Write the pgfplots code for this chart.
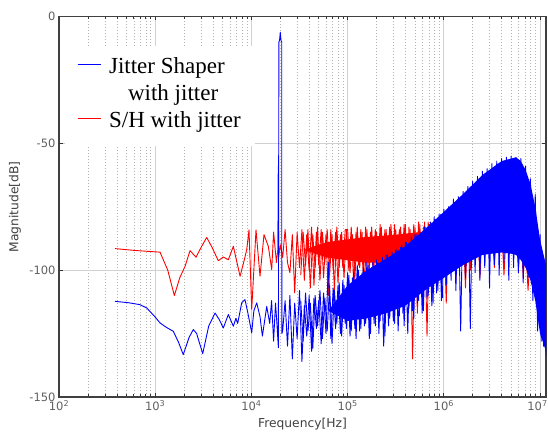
\documentclass[border=0pt]{standalone}
\usepackage{fontspec}
\setmainfont{DejaVu Sans}
\newfontfamily\legfont{Liberation Serif}
\usepackage{pgfplots}
\pgfplotsset{compat=1.18}
\begin{document}
\begin{tikzpicture}
\begin{axis}[
  scale only axis, width=487pt, height=380.5pt,
  xmode=log, xmin=100, xmax=1.153e7, ymin=-150, ymax=0,
  xtick={1e2,1e3,1e4,1e5,1e6,1e7},
  xticklabels={10\textsuperscript{2},10\textsuperscript{3},10\textsuperscript{4},10\textsuperscript{5},10\textsuperscript{6},\hspace*{-5pt}10\textsuperscript{7}},
  minor xtick={200,300,400,500,600,700,800,900,2000,3000,4000,5000,6000,7000,8000,9000,2e4,3e4,4e4,5e4,6e4,7e4,8e4,9e4,2e5,3e5,4e5,5e5,6e5,7e5,8e5,9e5,2e6,3e6,4e6,5e6,6e6,7e6,8e6,9e6},
  ytick={-150,-100,-50,0},
  yticklabels={-150,-100,-50,0},
  xmajorgrids, xminorgrids, ymajorgrids,
  major grid style={color=black!18, line width=0.7pt},
  minor grid style={color=black!30, line width=0.7pt, dash pattern=on 0.8pt off 2.2pt},
  axis line style={color=black!75, line width=1.1pt},
  tick style={color=black!80, line width=0.8pt},
  tick align=inside, major tick length=4pt, minor tick length=3pt,
  tick label style={font=\fontsize{11.5}{13}\selectfont, text=black!62},
  label style={font=\fontsize{12.3}{14}\selectfont, text=black!75},
  xlabel={Frequency[Hz]}, ylabel={Magnitude[dB]},
  xlabel style={at={(axis description cs:0.5,-0.071)}, anchor=center},
  ylabel style={at={(axis description cs:-0.0904,0.5)}, anchor=center},
  legend style={at={(axis description cs:0.0123,0.9225)}, anchor=north west,
    draw=none, fill=white, inner xsep=12pt, inner ysep=9pt,
    font=\legfont\fontsize{23}{27.5}\selectfont,
    nodes={inner sep=2pt, text height=16pt, text depth=7.5pt},
    column sep=6pt, row sep=-0.5pt},
  legend cell align=left,
  legend image code/.code={\draw[#1, line width=0.9pt] (0pt,4pt) -- (23pt,4pt);},
]
% ---------------- S/H with jitter (red) ----------------
\addplot[fill=red, draw=none, forget plot] coordinates {
(3.5e4,-92) (6e4,-89) (1.5e5,-87) (3.162e5,-86) (1e6,-84) (1.995e6,-84) (6.310e6,-86) (8.913e6,-93) (1e7,-102) (1.153e7,-112)
(1.153e7,-122) (1e7,-110) (8.913e6,-100) (6.310e6,-90) (1.995e6,-90) (1e6,-95) (3.162e5,-97) (1.5e5,-97) (6e4,-95)
} -- cycle;
\addplot[red, line width=0.9pt, line join=round, forget plot] coordinates {
(382,-91.5) (600,-92.2) (850,-92.6) (1122,-92.9) (1350,-100) (1581,-110) (1800,-103) (2042,-98.5) (2301,-92.3) (2656,-94.9)
(3000,-91) (3428,-87.1) (3900,-91) (4525,-96.3) (5102,-94.8) (5754,-95.9) (6486,-90.6) (7620,-102.4) (8300,-97) (8939,-91.9)
(9441,-84.1) (10070,-115.5) (11160,-84.1) (12280,-102.4) (13510,-86) (14990,-90.6) (16250,-99.8) (1.70e4,-85) (1.82e4,-97)
(1.88e4,-92) (1.90e4,-59) (1.92e4,-95) (2.0e4,-90)
(2.113e4,-95) (2.239e4,-84) (2.371e4,-97) (2.512e4,-101) (2.661e4,-86) (2.818e4,-109) (2.985e4,-85) (3.162e4,-99)
(3.350e4,-84) (3.548e4,-104) (3.758e4,-86) (3.981e4,-100) (4.217e4,-83) (4.467e4,-106) (4.732e4,-85) (5.012e4,-98)
(5.309e4,-84) (5.623e4,-103) (5.957e4,-86) (6.310e4,-110) (6.683e4,-84) (7.079e4,-100) (7.499e4,-85) (7.943e4,-105)
(8.414e4,-86) (8.913e4,-99) (9.441e4,-84)
(1.000e5,-84) (1.059e5,-101) (1.122e5,-86) (1.189e5,-104) (1.259e5,-83) (1.334e5,-99) (1.413e5,-85) (1.496e5,-106)
(1.585e5,-84) (1.679e5,-100) (1.778e5,-83) (1.884e5,-103) (1.995e5,-85) (2.113e5,-98) (2.239e5,-83) (2.371e5,-105)
(2.512e5,-84) (2.661e5,-101) (2.818e5,-82) (2.985e5,-99) (3.162e5,-84) (3.350e5,-104) (3.548e5,-83) (3.758e5,-100)
(3.981e5,-82) (4.217e5,-108) (4.467e5,-84) (4.732e5,-135) (5.012e5,-83) (5.309e5,-117) (5.623e5,-82) (5.957e5,-100)
(6.310e5,-81) (6.683e5,-126) (7.079e5,-82) (7.499e5,-102) (7.943e5,-81) (8.414e5,-104) (8.913e5,-82) (9.441e5,-99)
(1.000e6,-82) (1.059e6,-113) (1.122e6,-81) (1.189e6,-100) (1.259e6,-83) (1.334e6,-104) (1.413e6,-81) (1.496e6,-98)
(1.585e6,-82) (1.679e6,-107) (1.778e6,-81) (1.884e6,-100) (1.995e6,-82) (2.113e6,-96) (2.239e6,-81) (2.371e6,-103)
(2.512e6,-82) (2.661e6,-97) (2.818e6,-81) (2.985e6,-90) (3.162e6,-82) (3.350e6,-99) (3.548e6,-81) (3.758e6,-94)
(3.981e6,-82) (4.217e6,-102) (4.467e6,-83) (4.732e6,-95) (5.012e6,-82) (5.309e6,-92) (5.623e6,-84) (5.957e6,-100)
(6.310e6,-85) (6.683e6,-103) (7.079e6,-88) (7.499e6,-108) (7.943e6,-92) (8.414e6,-105) (8.913e6,-97) (9.441e6,-112)
(1.000e7,-100) (1.029e7,-117) (1.059e7,-105) (1.090e7,-124) (1.122e7,-110) (1.153e7,-127)
};
\addplot[red, line width=0.9pt, line join=round, forget plot] coordinates {
(3.255e4,-102) (3.447e4,-85) (3.652e4,-98) (3.868e4,-84) (4.097e4,-107) (4.340e4,-86) (4.597e4,-99) (4.870e4,-83)
(5.158e4,-104) (5.464e4,-85) (5.788e4,-97) (6.131e4,-84) (6.494e4,-102) (6.879e4,-86) (7.286e4,-108) (7.718e4,-83)
(8.175e4,-99) (8.660e4,-85) (9.173e4,-103) (9.716e4,-84)
(1.029e5,-100) (1.090e5,-83) (1.155e5,-105) (1.223e5,-85) (1.296e5,-98) (1.372e5,-84) (1.454e5,-102) (1.540e5,-83)
(1.631e5,-110) (1.728e5,-85) (1.830e5,-99) (1.939e5,-84) (2.054e5,-103) (2.175e5,-82) (2.304e5,-100) (2.441e5,-84)
(2.585e5,-97) (2.738e5,-83) (2.901e5,-106) (3.073e5,-82) (3.255e5,-101) (3.447e5,-84) (3.652e5,-99) (3.868e5,-82)
(4.097e5,-104) (4.340e5,-83) (4.597e5,-100) (4.870e5,-82) (5.158e5,-103) (5.464e5,-81) (5.788e5,-99) (6.131e5,-83)
(6.494e5,-105) (6.879e5,-81) (7.286e5,-100) (7.718e5,-82) (8.175e5,-97) (8.660e5,-81) (9.173e5,-102) (9.716e5,-82)
};
% ---------------- Jitter Shaper with jitter (blue) ----------------
\addplot[fill=blue, draw=none, forget plot] coordinates {
(6.3e4,-116) (1e5,-106) (1.585e5,-100) (2.512e5,-95.5) (3.981e5,-90.5) (6.310e5,-84) (1e6,-77) (1.585e6,-70) (2.512e6,-62.5)
(3.981e6,-57) (5.012e6,-56) (5.623e6,-55.5) (6.310e6,-57) (7.079e6,-60.5) (7.943e6,-66) (8.913e6,-75) (1e7,-88) (1.153e7,-98)
(1.153e7,-132) (1e7,-125) (8.913e6,-112) (7.943e6,-104) (7.079e6,-99) (6.310e6,-96) (5.623e6,-94) (5.012e6,-93.5)
(3.981e6,-93) (2.512e6,-94) (1.585e6,-98) (1e6,-103) (6.310e5,-108) (3.981e5,-114) (2.512e5,-117) (1.585e5,-119) (1e5,-120)
} -- cycle;
\addplot[blue, line width=0.9pt, line join=round, forget plot] coordinates {
(382,-112.3) (520,-112.8) (695,-113.6) (816,-114.9) (1000,-118.5) (1122,-120.8) (1300,-122.5) (1542,-124.1) (1750,-128.5)
(1958,-133.3) (2250,-126.5) (2489,-123.4) (2697,-125) (2900,-129) (3118,-132.9) (3600,-122) (4188,-116.9) (4634,-119.5)
(5102,-122.8) (5754,-117.5) (6486,-122.1) (6900,-119) (7200,-121) (7925,-112.9) (8570,-111.6) (9200,-117)
(1.007e4,-124.7) (1.06e4,-116) (1.135e4,-112.9) (1.228e4,-118.3) (1.30e4,-126) (1.442e4,-114.3) (1.55e4,-121) (1.62e4,-112)
(1.70e4,-128) (1.78e4,-113) (1.84e4,-121) (1.906e4,-130.6)
(1.93e4,-10) (1.96e4,-9.5) (1.995e4,-6.2) (2.03e4,-9.5) (2.065e4,-10) (2.07e4,-125)
(2.113e4,-124) (2.239e4,-112) (2.371e4,-130) (2.512e4,-110) (2.661e4,-135) (2.818e4,-113) (2.985e4,-127) (3.162e4,-108)
(3.350e4,-136) (3.548e4,-114) (3.758e4,-126) (3.981e4,-110) (4.217e4,-132) (4.467e4,-111) (4.732e4,-123) (5.012e4,-112)
(5.309e4,-129) (5.623e4,-109) (5.957e4,-125) (6.310e4,-97) (6.683e4,-127) (7.079e4,-107) (7.499e4,-123) (7.943e4,-106)
(8.414e4,-125) (8.913e4,-104) (9.441e4,-121)
(1.000e5,-101) (1.059e5,-126) (1.122e5,-103) (1.189e5,-123) (1.259e5,-98) (1.334e5,-124) (1.413e5,-101) (1.496e5,-122)
(1.585e5,-97) (1.679e5,-127) (1.778e5,-99) (1.884e5,-121) (1.995e5,-96) (2.113e5,-125) (2.239e5,-98) (2.371e5,-130)
(2.512e5,-94) (2.661e5,-122) (2.818e5,-95) (2.985e5,-120) (3.162e5,-92) (3.350e5,-124) (3.548e5,-91) (3.758e5,-117)
(3.981e5,-89) (4.217e5,-125) (4.467e5,-89) (4.732e5,-116) (5.012e5,-86) (5.309e5,-113) (5.623e5,-87) (5.957e5,-117)
(6.310e5,-83) (6.683e5,-111) (7.079e5,-82) (7.499e5,-114) (7.943e5,-79) (8.414e5,-109) (8.913e5,-78) (9.441e5,-112)
(1.000e6,-76) (1.059e6,-106) (1.122e6,-75) (1.189e6,-104) (1.259e6,-72) (1.334e6,-108) (1.413e6,-71) (1.496e6,-124)
(1.585e6,-69) (1.679e6,-103) (1.778e6,-67) (1.884e6,-123) (1.995e6,-65) (2.113e6,-101) (2.239e6,-63) (2.371e6,-104)
(2.512e6,-61) (2.661e6,-99) (2.818e6,-60) (2.985e6,-107) (3.162e6,-58) (3.350e6,-98) (3.548e6,-57) (3.758e6,-102)
(3.981e6,-56) (4.217e6,-97) (4.467e6,-55.5) (4.732e6,-104) (5.012e6,-55) (5.309e6,-99) (5.623e6,-55.5) (5.957e6,-101)
(6.310e6,-56) (6.683e6,-105) (7.079e6,-59) (7.499e6,-103) (7.943e6,-64) (8.414e6,-112) (8.913e6,-70) (9.441e6,-124)
(1.000e7,-86) (1.029e7,-128) (1.059e7,-93) (1.090e7,-130) (1.122e7,-97) (1.153e7,-134)
};
\addplot[blue, line width=0.9pt, line join=round, forget plot] coordinates {
(3.255e4,-112) (3.447e4,-128) (3.652e4,-109) (3.868e4,-124) (4.097e4,-113) (4.340e4,-131) (4.597e4,-110) (4.870e4,-122)
(5.158e4,-108) (5.464e4,-127) (5.788e4,-111) (6.131e4,-124) (6.494e4,-106) (6.879e4,-129) (7.286e4,-108) (7.718e4,-121)
(8.175e4,-105) (8.660e4,-126) (9.173e4,-106) (9.716e4,-123)
(1.029e5,-102) (1.090e5,-124) (1.155e5,-101) (1.223e5,-127) (1.296e5,-100) (1.372e5,-123) (1.454e5,-99) (1.540e5,-121)
(1.631e5,-98) (1.728e5,-125) (1.830e5,-97) (1.939e5,-122) (2.054e5,-97) (2.175e5,-120) (2.304e5,-95) (2.441e5,-126)
(2.585e5,-94) (2.738e5,-119) (2.901e5,-93) (3.073e5,-121) (3.255e5,-92) (3.447e5,-118) (3.652e5,-90) (3.868e5,-122)
(4.097e5,-89) (4.340e5,-115) (4.597e5,-87) (4.870e5,-119) (5.158e5,-86) (5.464e5,-112) (5.788e5,-85) (6.131e5,-116)
(6.494e5,-83) (6.879e5,-110) (7.286e5,-81) (7.718e5,-113) (8.175e5,-80) (8.660e5,-108) (9.173e5,-78) (9.716e5,-111)
};
\addlegendimage{blue}
\addlegendentry{Jitter Shaper}
\addlegendimage{empty legend}
\addlegendentry{\hspace*{19pt}with jitter}
\addlegendimage{red}
\addlegendentry{S/H with jitter}
\end{axis}
\pgfresetboundingbox
\useasboundingbox (-59pt,-39pt) rectangle (489pt,397pt);
\end{tikzpicture}
\end{document}
